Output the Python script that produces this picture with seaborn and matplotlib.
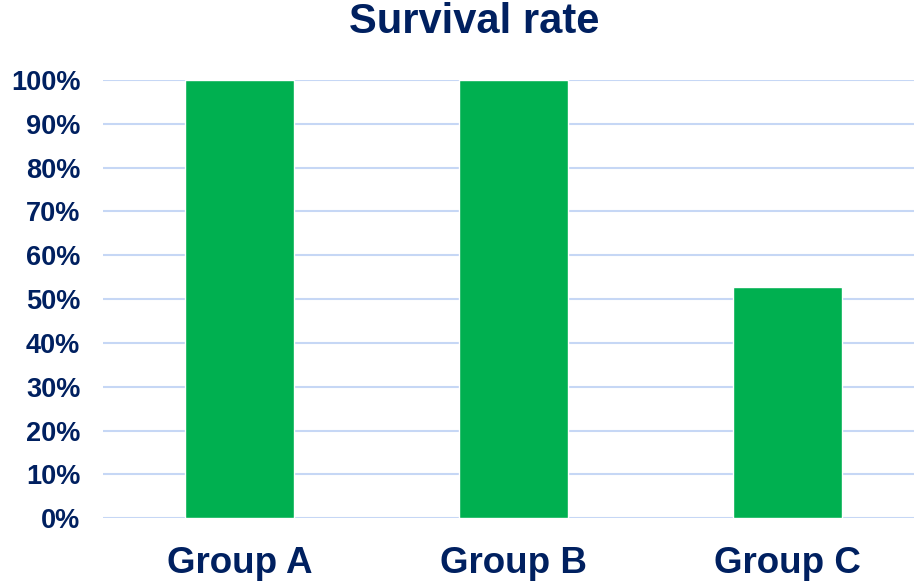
import matplotlib
matplotlib.use("Agg")
import matplotlib.pyplot as plt
import seaborn as sns
import pandas as pd
from matplotlib.ticker import PercentFormatter, MultipleLocator

categories = ["Group A", "Group B", "Group C"]
survival = [100.0, 100.0, 52.8]
title = "Survival rate"

sns.set_theme(style="white")
plt.rcParams['font.family'] = ['Liberation Sans', 'DejaVu Sans']

navy = "#002060"
green = "#00B050"
grid = "#C6D7F5"

df = pd.DataFrame({"group": categories, "rate": survival})

fig = plt.figure(figsize=(9.14, 5.81), dpi=100)
ax = fig.add_axes([102.5/914, 1-518.3/581, 822/914, (518.3-80)/581])

sns.barplot(data=df, x="group", y="rate", color=green, width=0.4, saturation=1,
            ax=ax, zorder=3)

ax.set_xlim(-0.5, 2.5)
ax.set_ylim(0, 100)
ax.yaxis.set_major_locator(MultipleLocator(10))
ax.yaxis.set_major_formatter(PercentFormatter(decimals=0))
ax.grid(axis="y", color=grid, linewidth=1.5, zorder=0)
ax.set_axisbelow(True)
for s in ax.spines.values():
    s.set_visible(False)
ax.set_xlabel("")
ax.set_ylabel("")
ax.tick_params(axis="y", length=0, pad=16, labelsize=19.5, labelcolor=navy)
ax.tick_params(axis="x", length=0, pad=20, labelsize=26.5, labelcolor=navy)
for lab in ax.get_xticklabels() + ax.get_yticklabels():
    lab.set_fontweight("bold")

fig.text(474/914, 1-22/581, title, ha="center", va="center", fontsize=30,
         fontweight="bold", color=navy)

fig.savefig("out.png", dpi=100)
